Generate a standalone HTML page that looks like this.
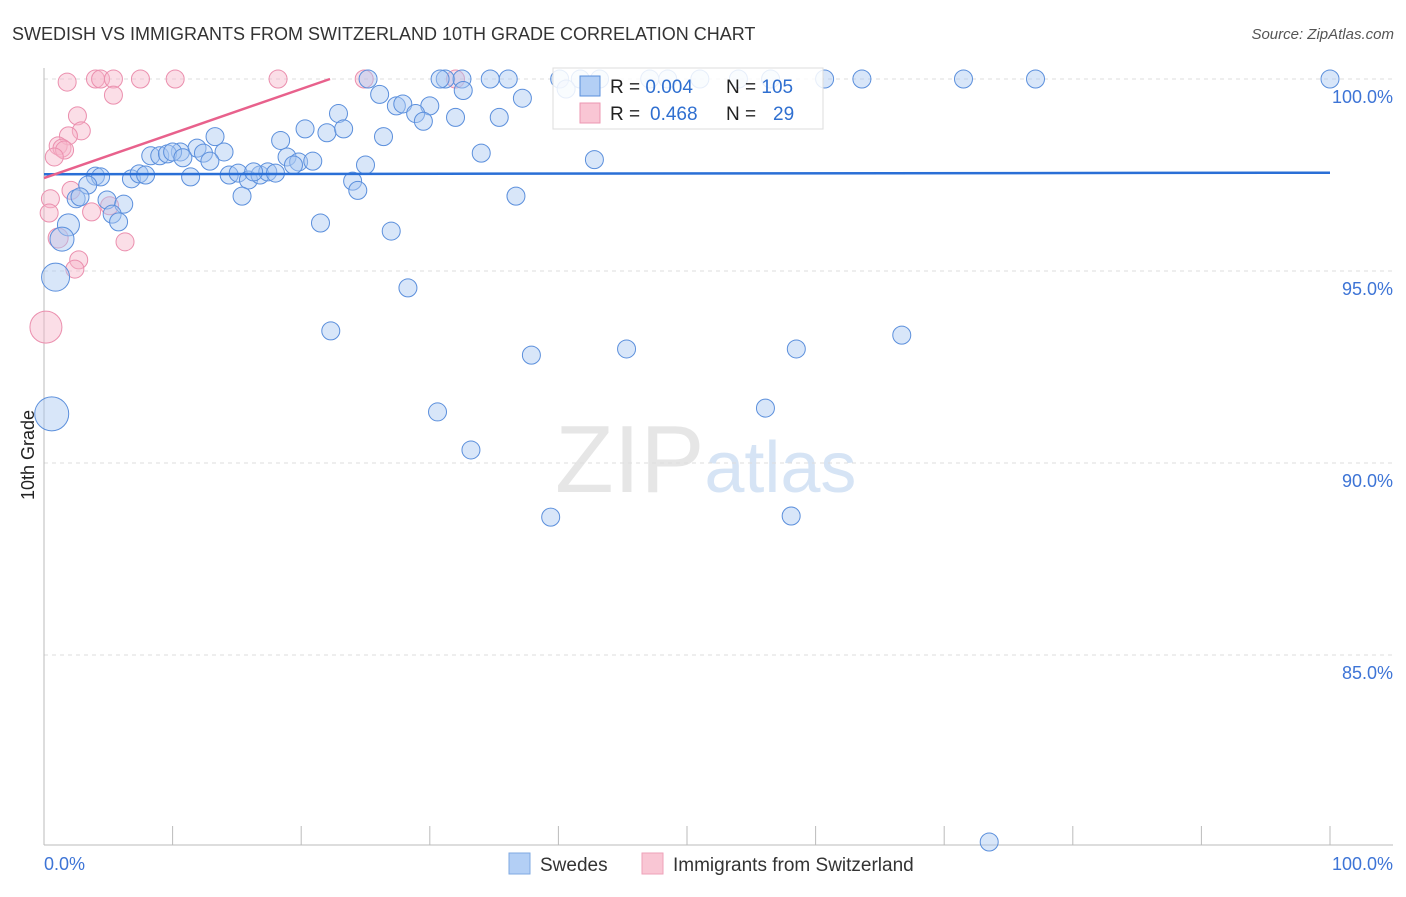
<!DOCTYPE html>
<html><head><meta charset="utf-8"><style>
body{margin:0;background:#fff;font-family:"Liberation Sans",sans-serif;}
svg text{font-family:"Liberation Sans",sans-serif;}
</style></head><body>
<svg id="chart" width="1406" height="892">
<text x="12" y="40" font-size="18" fill="#333">SWEDISH VS IMMIGRANTS FROM SWITZERLAND 10TH GRADE CORRELATION CHART</text>
<text x="1394" y="39" font-size="15" fill="#555" font-style="italic" text-anchor="end">Source: ZipAtlas.com</text>
<text x="34" y="455" font-size="18" fill="#222" transform="rotate(-90 34 455)" text-anchor="middle">10th Grade</text>
<text x="555" y="492" font-size="96" fill="#e6e6e6" font-family="Liberation Serif">ZIP<tspan fill="#d6e4f5" font-family="Liberation Sans" font-size="72">atlas</tspan></text>
<g id="grid"></g><g id="axes"></g><g id="pts"></g><g id="trend"></g>
<g>
<rect x="553" y="68" width="270" height="61" fill="#fff" fill-opacity="0.85" stroke="#ddd"/>
<rect x="580" y="76" width="20" height="20" fill="#b3cff5" stroke="#5a8fdc"/>
<rect x="580" y="103" width="20" height="20" fill="#f9c6d4" stroke="#ec97b2"/>
<text x="610" y="93" font-size="19" fill="#222">R = <tspan fill="#2f6fd0">0.004</tspan><tspan x="726">N = </tspan><tspan fill="#2f6fd0">105</tspan></text>
<text x="610" y="120" font-size="19" fill="#222">R = <tspan fill="#2f6fd0" x="650">0.468</tspan><tspan x="726">N = </tspan><tspan fill="#2f6fd0" x="773">29</tspan></text>
</g>
<g>
<rect x="509" y="853" width="21" height="21" fill="#b3cff5" stroke="#7fa9e2"/>
<text x="540" y="871" font-size="19" fill="#333">Swedes</text>
<rect x="642" y="853" width="21" height="21" fill="#f9c6d4" stroke="#eea2b9"/>
<text x="673" y="871" font-size="19" fill="#333">Immigrants from Switzerland</text>
</g>
</svg>
<script>
const yTicks=[100,95,90,85];
const yTickLabels=["100.0%","95.0%","90.0%","85.0%"];
const blueX=[100,77.1,71.5,63.6,60.7,56.5,54.0,51.0,48.5,47.1,43.2,41.7,40.1,36.1,34.7,32.5,31.2,30.8,25.2,
26.1,32.6,37.2,27.4,27.9,30.0,28.9,29.5,32.0,35.4,22.9,22.0,23.3,26.4,20.3,18.4,13.3,11.9,10.6,14.0,8.3,9.0,9.6,10.0,10.8,12.4,12.9,18.9,19.8,20.9,19.4,34.0,42.8,25.0,24.0,24.4,11.4,14.4,15.1,15.9,16.8,17.4,18.0,16.3,6.8,7.4,7.9,4.0,4.4,3.4,15.4,36.7,2.5,2.8,4.9,6.2,5.3,5.8,1.9,1.4,21.5,27.0,28.3,0.9,0.6,22.3,37.9,45.3,58.5,66.7,30.6,56.1,33.2,39.4,58.1,73.5,40.6];
const blueY=[100,100,100,100,100,100,100,100,100,100,100,100,100,100,100,100,100,100,100,
99.6,99.7,99.5,99.3,99.35,99.3,99.1,98.9,99.0,99.0,99.1,98.6,98.7,98.5,98.7,98.4,98.5,98.2,98.1,98.1,98.0,98.0,98.05,98.1,97.95,98.07,97.86,97.97,97.84,97.86,97.76,98.07,97.9,97.76,97.34,97.1,97.45,97.5,97.55,97.37,97.5,97.58,97.55,97.58,97.4,97.53,97.5,97.47,97.45,97.24,96.95,96.95,96.88,96.93,96.85,96.74,96.48,96.28,96.2,95.83,96.25,96.04,94.56,94.84,91.28,93.44,92.81,92.97,92.97,93.33,91.33,91.43,90.34,88.59,88.62,80.13,99.74];
const blueSize=blueX.map((x,i)=>i===82?14:i===83?17:i===78?12:i===77?11:9);
const pinkX=[1.8,4.0,4.4,5.4,7.5,10.2,18.2,24.9,32.0,5.4,2.6,2.9,1.9,1.1,1.4,1.6,0.8,2.1,0.5,0.4,3.7,5.1,1.1,6.3,2.7,2.4,0.15];
const pinkY=[99.92,100,100,100,100,100,100,100,100,99.58,99.04,98.65,98.52,98.26,98.2,98.15,97.97,97.1,96.88,96.51,96.54,96.7,95.86,95.76,95.29,95.05,93.54];
const pinkSize=pinkX.map((x,i)=>i===26?16:i===22?10:9);
const blueTrend=[97.52,97.56];
const pinkTrend=[97.42,0.116];
const X0=44,X1=1330,Ytop=79,pxPerPct=38.4;
const sx=v=>X0+(X1-X0)*v/100;
const sy=v=>Ytop+(100-v)*pxPerPct;
const NS="http://www.w3.org/2000/svg";
function mk(tag,attrs,parent){const e=document.createElementNS(NS,tag);for(const k in attrs)e.setAttribute(k,attrs[k]);document.getElementById(parent).appendChild(e);return e;}
yTicks.forEach((t,i)=>{
 const l=mk('line',{x1:44,x2:1393,y1:sy(t),y2:sy(t),stroke:'#ddd','stroke-dasharray':'4,4'},'grid');
 
 
 const tx=mk('text',{x:1393,y:sy(t)+24,'font-size':18,fill:'#3d74d6','text-anchor':'end'},'grid');tx.textContent=yTickLabels[i];
 
 
});
mk('line',{x1:44,x2:44,y1:68,y2:845,stroke:'#bbb'},'axes');
mk('line',{x1:44,x2:1393,y1:845,y2:845,stroke:'#bbb'},'axes');
for(let i=0;i<=10;i++){const t=mk('line',{x1:sx(i*10),x2:sx(i*10),y1:826,y2:845,stroke:'#bbb'},'axes');
 
 }
let a=mk('text',{x:44,y:870,'font-size':18,fill:'#3d74d6'},'axes');a.textContent='0.0%';


a=mk('text',{x:1393,y:870,'font-size':18,fill:'#3d74d6','text-anchor':'end'},'axes');a.textContent='100.0%';


pinkX.forEach((x,i)=>{const c=mk('circle',{cx:sx(x),cy:sy(pinkY[i]),r:pinkSize[i],fill:'#f7b6c9','fill-opacity':0.45,stroke:'#eb8fae','stroke-width':1},'pts');
 
 });
blueX.forEach((x,i)=>{const c=mk('circle',{cx:sx(x),cy:sy(blueY[i]),r:blueSize[i],fill:'#a9c8f2','fill-opacity':0.45,stroke:'#5b8fdc','stroke-width':1},'pts');
 
 });
let tl=mk('line',{x1:sx(0),y1:sy(blueTrend[0]),x2:sx(100),y2:sy(blueTrend[1]),stroke:'#2a6fd6','stroke-width':2.5},'trend');


const pEnd=(100-pinkTrend[0])/pinkTrend[1];
tl=mk('line',{x1:sx(0),y1:sy(pinkTrend[0]),x2:sx(pEnd),y2:sy(100),stroke:'#e8618c','stroke-width':2.5},'trend');


</script>
</body></html>
